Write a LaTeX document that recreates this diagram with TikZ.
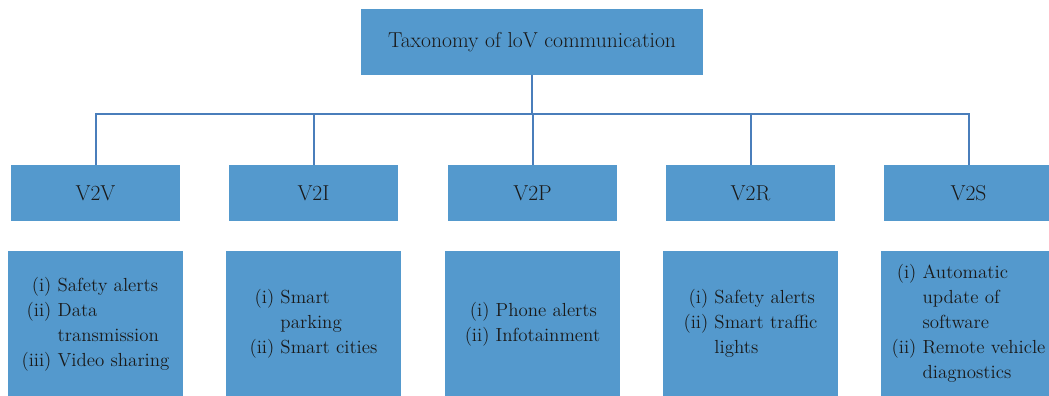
\documentclass[tikz,border=0pt]{standalone}
\usepackage{array}
\definecolor{boxblue}{HTML}{5499CD}
\definecolor{linkblue}{HTML}{4A7EBB}
\definecolor{txt}{HTML}{1A1A1A}
\tikzset{
  box/.style={fill=boxblue, draw=none, inner sep=0pt, align=center, text=txt,
              font=\fontsize{14.2}{18.75}\selectfont},
  topbox/.style={box, minimum width=256.5pt, minimum height=49.5pt,
              font=\fontsize{16.2}{18.75}\selectfont},
  catbox/.style={box, minimum width=126.75pt, minimum height=42pt,
              font=\fontsize{16.2}{18.75}\selectfont},
  lstbox/.style={box, minimum width=131.25pt, minimum height=108.75pt},
  link/.style={draw=linkblue, line width=1.5pt},
}
\newcommand{\itemlist}[1]{\begin{tabular}{@{}r@{\ }l@{}}#1\end{tabular}}
\begin{document}
\begin{tikzpicture}[x=0.75pt,y=-0.75pt]
\useasboundingbox (0,0) rectangle (1049,396);
\clip (0,0) rectangle (1049,396);
\node[topbox] (top) at (532,42) {Taxonomy of loV communication};
\node[catbox] (v2v) at (95.5,193) {V2V};
\node[catbox] (v2i) at (313.5,193) {V2I};
\node[catbox] (v2p) at (532.5,193) {V2P};
\node[catbox] (v2r) at (750.5,193) {V2R};
\node[catbox] (v2s) at (968.5,193) {V2S};
\coordinate (bus) at (532,114);
\foreach \c in {v2v,v2i,v2p,v2r,v2s}{
  \draw[link] (top.south) -- (top.south |- bus) -| (\c.north);
}
\node[lstbox] (l1) at (95.5,323.5) {\itemlist{(i) & Safety alerts\\ (ii) & Data\\ & transmission\\ (iii) & Video sharing}};
\node[lstbox] (l2) at (313.5,323.5) {\itemlist{(i) & Smart\\ & parking\\ (ii) & Smart cities}};
\node[lstbox] (l3) at (532.5,323.5) {\itemlist{(i) & Phone alerts\\ (ii) & Infotainment}};
\node[lstbox] (l4) at (750.5,323.5) {\itemlist{(i) & Safety alerts\\ (ii) & Smart traffic\\ & lights}};
\node[lstbox] (l5) at (968.5,323.5) {\itemlist{(i) & Automatic\\ & update of\\ & software\\ (ii) & Remote vehicle\\ & diagnostics}};
\end{tikzpicture}
\end{document}
